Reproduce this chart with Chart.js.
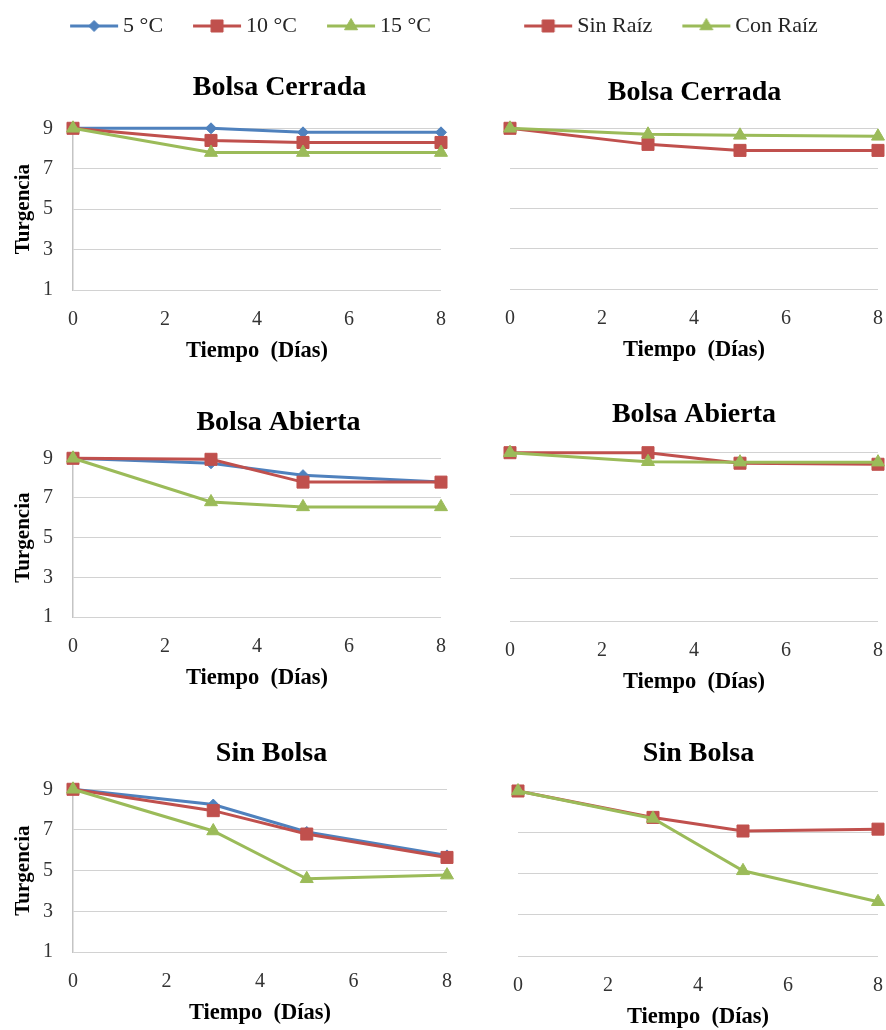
<!DOCTYPE html>
<html>
<head>
<meta charset="utf-8">
<script src="https://cdn.jsdelivr.net/npm/chart.js@4.4.1/dist/chart.umd.min.js"></script>
<style>
  body { margin: 0; background: #fff; overflow: hidden; }
  #fig { position: relative; width: 886px; height: 1030px; overflow: hidden; }
  canvas { position: absolute; }
</style>
</head>
<body>
<div id="fig">
  <canvas id="c1"></canvas>
  <canvas id="c2"></canvas>
  <canvas id="c3"></canvas>
  <canvas id="c4"></canvas>
  <canvas id="c5"></canvas>
  <canvas id="c6"></canvas>
</div>
<script>
// datos
const dias = [0, 3, 5, 8]
const xTicks = [0, 2, 4, 6, 8]
const yTicks = [1, 3, 5, 7, 9]
const temperaturas = ['5 °C', '10 °C', '15 °C']
const raices = ['Sin Raíz', 'Con Raíz']
const titulos = ['Bolsa Cerrada', 'Bolsa Abierta', 'Sin Bolsa']

const cerrada5 = [9, 9, 8.8, 8.8]
const cerrada10 = [9, 8.4, 8.3, 8.3]
const cerrada15 = [9, 7.8, 7.8, 7.8]
const cerradaSin = [9, 8.2, 7.9, 7.9]
const cerradaCon = [9, 8.7, 8.65, 8.6]

const abierta5 = [9, 8.75, 8.15, 7.8]
const abierta10 = [9, 8.95, 7.8, 7.8]
const abierta15 = [9, 6.8, 6.55, 6.55]
const abiertaSin = [9, 9, 8.5, 8.45]
const abiertaCon = [9, 8.57, 8.55, 8.55]

const sinBolsa5 = [9, 8.25, 6.9, 5.75]
const sinBolsa10 = [9, 7.95, 6.8, 5.65]
const sinBolsa15 = [9, 6.95, 4.6, 4.78]
const sinBolsaSin = [9, 7.72, 7.06, 7.15]
const sinBolsaCon = [9, 7.67, 5.13, 3.63]

const fuente = '"Liberation Serif", "Times New Roman", serif'

const estiloTemp = [
  { color: '#4F81BD', punto: 'rectRot', r: 5.5 },
  { color: '#C0504D', punto: 'rect', r: 8.5 },
  { color: '#9BBB59', punto: 'triangle', r: 7.5 }
]
const estiloRaiz = [estiloTemp[1], estiloTemp[2]]

// posiciones en la pagina (px)
const paneles = [
  { id: 'c1', x: 0,   y: 0,   left: 73,  right: 441, top: 128.3, bottom: 290,   tx: 279.5, ty: 88,  leyenda: true, ejeY: true },
  { id: 'c2', x: 444, y: 0,   left: 510, right: 878, top: 128.3, bottom: 288.5, tx: 694.5, ty: 93,  leyenda: true, ejeY: false },
  { id: 'c3', x: 0,   y: 375, left: 73,  right: 441, top: 458.3, bottom: 616.7, tx: 278.5, ty: 423, leyenda: false, ejeY: true },
  { id: 'c4', x: 444, y: 375, left: 510, right: 878, top: 452.7, bottom: 620.7, tx: 694,   ty: 415, leyenda: false, ejeY: false },
  { id: 'c5', x: 0,   y: 705, left: 73,  right: 447, top: 789.3, bottom: 951.7, tx: 271.5, ty: 754, leyenda: false, ejeY: true },
  { id: 'c6', x: 444, y: 705, left: 518, right: 878, top: 791,   bottom: 956,   tx: 698.5, ty: 754, leyenda: false, ejeY: false }
]
const margenDer = 24

function iconoLeyenda(est) {
  const c = document.createElement('canvas')
  c.width = 80
  c.height = 24
  const g = c.getContext('2d')
  g.strokeStyle = est.color
  g.fillStyle = est.color
  g.lineWidth = 3
  g.beginPath()
  g.moveTo(29, 12)
  g.lineTo(77, 12)
  g.stroke()
  g.lineWidth = 1
  Chart.helpers.drawPoint(g, { pointStyle: est.punto, radius: est.r, borderWidth: 1, rotation: 0 }, 53, 12)
  return c
}

// mueve el titulo al centro
const centrarTitulo = {
  id: 'centrarTitulo',
  afterLayout(chart, args, opts) {
    const t = chart.titleBlock
    if (!t || opts.x == null) return
    const mitad = t.width / 2
    t.left = opts.x - mitad
    t.right = opts.x + mitad
  }
}

function crearPanel(p, titulo, nombres, series, estilos) {
  const canvas = document.getElementById(p.id)
  const ancho = Math.round(p.right - p.x + margenDer)
  const alto = Math.round(p.bottom - p.y + 72)
  canvas.width = ancho
  canvas.height = alto
  canvas.style.left = p.x + 'px'
  canvas.style.top = p.y + 'px'
  canvas.style.width = ancho + 'px'
  canvas.style.height = alto + 'px'

  const padTop = p.leyenda ? 5 : 0
  const cajaTop = padTop + (p.leyenda ? 42 : 0)
  const areaTop = p.top - p.y
  const lh = 28 * 1.2
  const tPadTop = p.ty - p.y - cajaTop - lh / 2
  const tPadBottom = areaTop - cajaTop - lh - tPadTop
  const iconos = estilos.map(iconoLeyenda)

  const datasets = series.map((vals, i) => ({
    label: nombres[i],
    data: dias.map((d, j) => ({ x: d, y: vals[j] })),
    borderColor: estilos[i].color,
    backgroundColor: estilos[i].color,
    pointBackgroundColor: estilos[i].color,
    pointBorderColor: estilos[i].color,
    pointStyle: estilos[i].punto,
    pointRadius: estilos[i].r,
    pointBorderWidth: 1,
    borderWidth: 3,
    tension: 0,
    clip: false,
    order: series.length - 1 - i
  }))

  return new Chart(canvas, {
    type: 'line',
    data: { datasets },
    plugins: [centrarTitulo],
    options: {
      responsive: false,
      animation: false,
      events: [],
      layout: { padding: { top: padTop, left: 0, right: ancho - (p.right - p.x), bottom: 0 } },
      scales: {
        x: {
          type: 'linear',
          min: 0,
          max: 8,
          afterBuildTicks: s => { s.ticks = xTicks.map(v => ({ value: v })) },
          afterFit: s => { s.height = 72 },
          grid: { display: false, drawTicks: false },
          border: { display: false },
          ticks: { padding: 17.5, color: '#333', maxRotation: 0, autoSkip: false, font: { family: fuente, size: 20 } },
          title: {
            display: true,
            text: 'Tiempo  (Días)',
            color: '#000',
            font: { family: fuente, size: 22.5, weight: 'bold', lineHeight: 1 },
            padding: { top: 0, bottom: 0 }
          }
        },
        y: {
          min: 1,
          max: 9,
          afterBuildTicks: s => { s.ticks = yTicks.map(v => ({ value: v })) },
          afterFit: s => { s.width = p.left - p.x },
          grid: { color: '#d2d2d2', lineWidth: 1, drawTicks: false },
          border: { display: p.ejeY, color: '#c4c4c4', width: 1.5 },
          ticks: { display: p.ejeY, padding: 20, color: '#333', font: { family: fuente, size: 20 } },
          title: {
            display: p.ejeY,
            text: 'Turgencia',
            color: '#000',
            font: { family: fuente, size: 21, weight: 'bold' },
            padding: { top: 11.4, bottom: 0 }
          }
        }
      },
      plugins: {
        tooltip: { enabled: false },
        centrarTitulo: { x: p.tx - p.x },
        title: {
          display: true,
          text: titulo,
          color: '#000',
          weight: 500,
          font: { family: fuente, size: 28, weight: 'bold' },
          padding: { top: tPadTop, bottom: tPadBottom }
        },
        legend: {
          display: p.leyenda,
          position: 'top',
          weight: 1000,
          align: p.ejeY ? 'end' : 'center',
          labels: {
            usePointStyle: true,
            pointStyleWidth: 62,
            padding: 10,
            color: '#262626',
            font: { family: fuente, size: 22 },
            sort: (a, b) => a.datasetIndex - b.datasetIndex,
            generateLabels: chart => Chart.defaults.plugins.legend.labels.generateLabels(chart)
              .map(l => Object.assign(l, { pointStyle: iconos[l.datasetIndex] }))
          }
        }
      }
    }
  })
}

crearPanel(paneles[0], titulos[0], temperaturas, [cerrada5, cerrada10, cerrada15], estiloTemp)
crearPanel(paneles[1], titulos[0], raices, [cerradaSin, cerradaCon], estiloRaiz)
crearPanel(paneles[2], titulos[1], temperaturas, [abierta5, abierta10, abierta15], estiloTemp)
crearPanel(paneles[3], titulos[1], raices, [abiertaSin, abiertaCon], estiloRaiz)
crearPanel(paneles[4], titulos[2], temperaturas, [sinBolsa5, sinBolsa10, sinBolsa15], estiloTemp)
crearPanel(paneles[5], titulos[2], raices, [sinBolsaSin, sinBolsaCon], estiloRaiz)
</script>
</body>
</html>
